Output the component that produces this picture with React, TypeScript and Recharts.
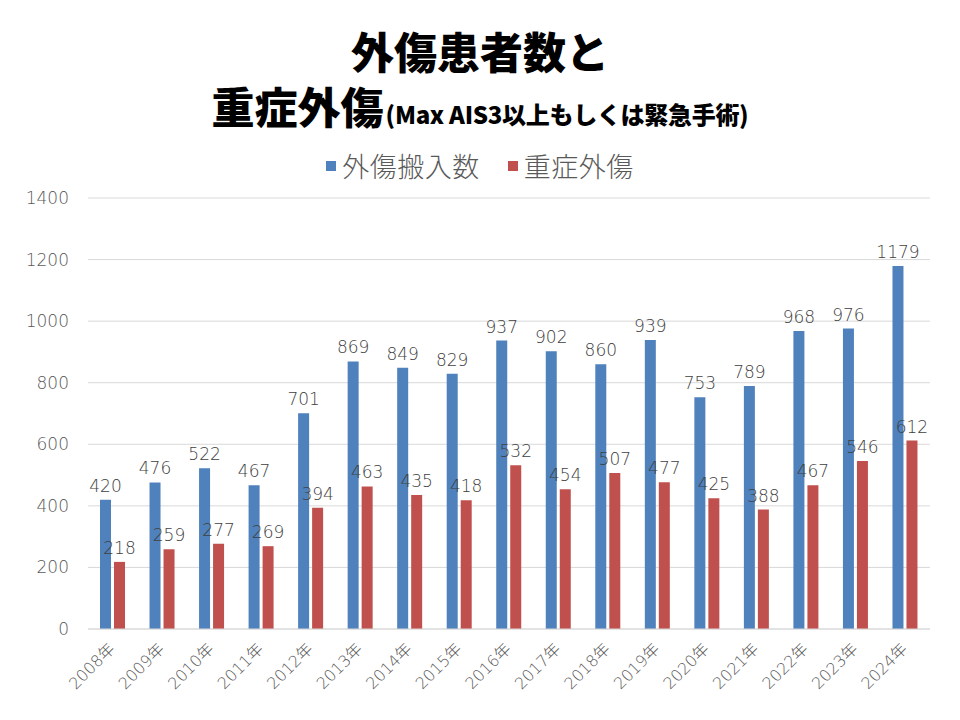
import React from 'react';
import { BarChart, Bar, XAxis, YAxis, CartesianGrid, LabelList } from 'recharts';

const years = ['2008年','2009年','2010年','2011年','2012年','2013年','2014年','2015年','2016年','2017年','2018年','2019年','2020年','2021年','2022年','2023年','2024年'];
const traumaAdmissions = [420,476,522,467,701,869,849,829,937,902,860,939,753,789,968,976,1179];
const severeTrauma = [218,259,277,269,394,463,435,418,532,454,507,477,425,388,467,546,612];
const yTicks = [0,200,400,600,800,1000,1200,1400];

const seriesNames = ['外傷搬入数', '重症外傷'];
const colors = ['#4F81BD', '#C0504D'];

const data = years.map((y, i) => ({ year: y, a: traumaAdmissions[i], b: severeTrauma[i] }));

const labelFont = "'DejaVu Sans', 'Noto Sans CJK JP', sans-serif";
const cjk = "'Noto Sans CJK JP', sans-serif";

const XTick = (props: any) => {
  const { x, y, payload } = props;
  return (
    <text x={x + 3} y={y + 13} transform={`rotate(-45, ${x + 3}, ${y + 13})`} textAnchor="end"
      fontSize={16} fill="#595959" fontFamily={labelFont} fontWeight={200}>
      {payload.value}
    </text>
  );
};

export default function App() {
  return (
    <div style={{ position: 'absolute', left: 0, top: 0, width: 960, height: 720, background: '#fff', overflow: 'hidden' }}>
      <div style={{ position: 'absolute', left: 0, top: 25, width: 960, textAlign: 'center', fontFamily: cjk, fontWeight: 900, fontSize: 43, lineHeight: '50px', color: '#000' }}>
        外傷患者数と
      </div>
      <div style={{ position: 'absolute', left: 0, top: 80, width: 960, textAlign: 'center', fontFamily: cjk, fontWeight: 900, color: '#000', lineHeight: '50px', whiteSpace: 'nowrap' }}>
        <span style={{ fontSize: 43 }}>重症外傷</span>
        <span style={{ fontSize: 24, letterSpacing: -0.3, marginLeft: 2 }}>(Max AIS3以上もしくは緊急手術)</span>
      </div>
      <div style={{ position: 'absolute', left: 0, top: 148, width: 960, display: 'flex', justifyContent: 'center', alignItems: 'center', fontFamily: cjk, fontWeight: 300, fontSize: 27, color: '#595959', lineHeight: '36px' }}>
        {seriesNames.map((n, i) => (
          <div key={n} style={{ display: 'flex', alignItems: 'center', marginLeft: i === 0 ? 0 : 28 }}>
            <div style={{ width: 10, height: 10, background: colors[i], marginRight: 6 }} />
            <span style={{ letterSpacing: 0.5 }}>{n}</span>
          </div>
        ))}
      </div>
      <div style={{ position: 'absolute', left: 0, top: 0 }}>
        <BarChart width={960} height={720} data={data} margin={{ top: 198, right: 30, left: 0, bottom: 0 }} barSize={11} barGap={3}>
          <CartesianGrid vertical={false} stroke="#D9D9D9" />
          <XAxis dataKey="year" height={91} tick={<XTick />} tickLine={false} axisLine={{ stroke: '#D9D9D9' }} interval={0} />
          <YAxis width={88} domain={[0, 1400]} ticks={yTicks} tickLine={false} axisLine={false}
            tick={{ fontSize: 17, fill: '#595959', fontFamily: labelFont, fontWeight: 200 }} tickMargin={13} />
          <Bar dataKey="a" fill={colors[0]} isAnimationActive={false}>
            <LabelList dataKey="a" position="top" offset={8} fill="#404040" fontSize={17} fontFamily={labelFont} fontWeight={200} />
          </Bar>
          <Bar dataKey="b" fill={colors[1]} isAnimationActive={false}>
            <LabelList dataKey="b" position="top" offset={8} fill="#404040" fontSize={17} fontFamily={labelFont} fontWeight={200} />
          </Bar>
        </BarChart>
      </div>
    </div>
  );
}
